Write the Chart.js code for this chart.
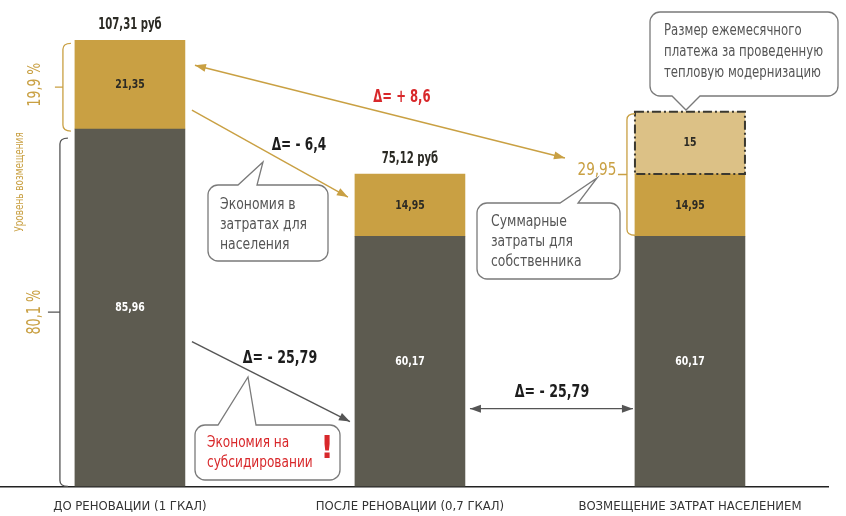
<!DOCTYPE html>
<html>
<head>
<meta charset="utf-8">
<script src="https://cdn.jsdelivr.net/npm/chart.js@4.4.0/dist/chart.umd.min.js"></script>
<style>
  html, body { margin: 0; padding: 0; background: #fff; }
  #wrap { width: 846px; height: 516px; position: relative; }
</style>
</head>
<body>
<div id="wrap"><canvas id="chart"></canvas></div>
<script>
// Data
const categories = ['ДО РЕНОВАЦИИ (1 ГКАЛ)', 'ПОСЛЕ РЕНОВАЦИИ (0,7 ГКАЛ)', 'ВОЗМЕЩЕНИЕ ЗАТРАТ НАСЕЛЕНИЕМ'];
const subsidyPart = [85.96, 60.17, 60.17];   // dark part
const residentPart = [21.35, 14.95, 14.95];  // gold part
const modernPayment = [null, null, 15];      // light part (3rd column only)
const shareLabels = ['19,9 %', '80,1 %'];

const FONT = "'Liberation Sans Narrow', 'DejaVu Sans Condensed', sans-serif";
const DARK = '#5d5b50';
const GOLD = '#c9a043';
const LIGHT = '#dcc186';
const RED = '#d8282b';

Chart.defaults.font.family = FONT;

function fmt(v) {
    return String(Math.round(v * 100) / 100).replace('.', ',');
}

function toPoints(arr) {
    return arr.map((v, i) => v === null ? null : { x: i + 1, y: v }).filter(p => p);
}

function arrow(ctx, x1, y1, x2, y2, color, both) {
    ctx.save();
    ctx.strokeStyle = color;
    ctx.fillStyle = color;
    ctx.lineWidth = 1.4;
    ctx.beginPath();
    ctx.moveTo(x1, y1);
    ctx.lineTo(x2, y2);
    ctx.stroke();
    const head = (hx, hy, ang) => {
        ctx.beginPath();
        ctx.moveTo(hx, hy);
        ctx.lineTo(hx - 11 * Math.cos(ang) + 4 * Math.sin(ang), hy - 11 * Math.sin(ang) - 4 * Math.cos(ang));
        ctx.lineTo(hx - 11 * Math.cos(ang) - 4 * Math.sin(ang), hy - 11 * Math.sin(ang) + 4 * Math.cos(ang));
        ctx.closePath();
        ctx.fill();
    };
    const a = Math.atan2(y2 - y1, x2 - x1);
    head(x2, y2, a);
    if (both) head(x1, y1, a + Math.PI);
    ctx.restore();
}

function callout(ctx, x, y, w, h, side, b1, b2, tx, ty) {
    const r = 10;
    ctx.save();
    ctx.beginPath();
    ctx.moveTo(x + r, y);
    if (side === 'top') { ctx.lineTo(b1, y); ctx.lineTo(tx, ty); ctx.lineTo(b2, y); }
    ctx.lineTo(x + w - r, y);
    ctx.arcTo(x + w, y, x + w, y + r, r);
    ctx.lineTo(x + w, y + h - r);
    ctx.arcTo(x + w, y + h, x + w - r, y + h, r);
    if (side === 'bottom') { ctx.lineTo(b2, y + h); ctx.lineTo(tx, ty); ctx.lineTo(b1, y + h); }
    ctx.lineTo(x + r, y + h);
    ctx.arcTo(x, y + h, x, y + h - r, r);
    ctx.lineTo(x, y + r);
    ctx.arcTo(x, y, x + r, y, r);
    ctx.closePath();
    ctx.fillStyle = '#fff';
    ctx.fill();
    ctx.strokeStyle = '#7a7a7a';
    ctx.lineWidth = 1.3;
    ctx.stroke();
    ctx.restore();
}

function bracket(ctx, x, y1, y2, tick, color) {
    ctx.save();
    ctx.strokeStyle = color;
    ctx.lineWidth = 1.3;
    ctx.beginPath();
    ctx.moveTo(x + 8, y1);
    ctx.quadraticCurveTo(x, y1, x, y1 + 6);
    ctx.lineTo(x, y2 - 6);
    ctx.quadraticCurveTo(x, y2, x + 8, y2);
    const my = (y1 + y2) / 2;
    ctx.moveTo(x, my);
    ctx.lineTo(x - tick, my);
    ctx.stroke();
    ctx.restore();
}

// text squeezed horizontally (sx) to imitate the condensed face of the original
function text(ctx, str, x, y, font, color, align, sx) {
    sx = sx || 1;
    ctx.save();
    ctx.translate(x, y);
    ctx.scale(sx, 1);
    ctx.font = font;
    ctx.fillStyle = color;
    ctx.textAlign = align || 'center';
    ctx.textBaseline = 'middle';
    ctx.fillText(str, 0, 0);
    ctx.restore();
}

function vtext(ctx, str, x, y, font, color, sx) {
    ctx.save();
    ctx.translate(x, y);
    ctx.rotate(-Math.PI / 2);
    text(ctx, str, 0, 0, font, color, 'center', sx);
    ctx.restore();
}

const annotations = {
    id: 'annotations',
    afterDatasetsDraw(chart) {
        const ctx = chart.ctx;
        const Y = v => chart.scales.y.getPixelForValue(v);
        const bars = [0, 1, 2].map(d => chart.getDatasetMeta(d).data);

        // values inside the bars
        bars.forEach((els, d) => {
            els.forEach((el, k) => {
                const v = chart.data.datasets[d].data[k].y;
                text(ctx, fmt(v), el.x, (el.y + el.base) / 2, 'bold 13px ' + FONT, d === 0 ? '#fff' : '#2b2a24', 'center', 0.8);
            });
        });

        // dashed frame round the modernisation payment
        const m = bars[2][0];
        ctx.save();
        ctx.strokeStyle = '#3a3830';
        ctx.lineWidth = 2;
        ctx.setLineDash([9, 3, 2, 3]);
        ctx.strokeRect(m.x - m.width / 2, m.y, m.width, m.base - m.y);
        ctx.restore();

        // totals above the first two columns
        [0, 1].forEach(i => {
            const total = subsidyPart[i] + residentPart[i];
            text(ctx, fmt(total) + ' руб', bars[1][i].x, bars[1][i].y - 15, 'bold 15px ' + FONT, '#2b2a24', 'center', 0.75);
        });

        // left brackets and shares
        const b1 = bars[1][0], b0 = bars[0][0];
        const lx = b0.x - b0.width / 2;
        bracket(ctx, lx - 12, b1.y + 3, b1.base + 2, 8, GOLD);
        bracket(ctx, lx - 15, b0.y + 9, b0.base, 12, '#555');
        vtext(ctx, shareLabels[0], 35, (b1.y + b1.base) / 2, '18px ' + FONT, GOLD, 0.77);
        vtext(ctx, shareLabels[1], 35, (b0.y + 9 + b0.base) / 2, '19px ' + FONT, GOLD, 0.75);
        vtext(ctx, 'Уровень возмещения', 20, 182, '13px ' + FONT, GOLD, 0.76);

        // right bracket: sum paid by the owner
        const r1 = bars[1][2], r2 = bars[2][0];
        const rx = r2.x - r2.width / 2;
        bracket(ctx, rx - 8, r2.y + 2, r1.base - 1, 9, GOLD);
        const ownerSum = residentPart[2] + modernPayment[2];
        text(ctx, fmt(ownerSum), rx - 38, (r2.y + r1.base) / 2 - 4, '18px ' + FONT, GOLD, 'center', 0.84);

        // arrows
        const right1 = b0.x + b0.width / 2;
        const left2 = bars[1][1].x - bars[1][1].width / 2;
        const right2 = bars[1][1].x + bars[1][1].width / 2;
        const bf = 'bold 18px ' + FONT;
        arrow(ctx, right1 + 10, Y(101.3), rx - 70, Y(79), GOLD, true);
        text(ctx, 'Δ= + 8,6', 402, 97, bf, RED, 'center', 0.72);
        arrow(ctx, right1 + 7, Y(90.5), left2 - 7, Y(69.6), GOLD, false);
        text(ctx, 'Δ= - 6,4', 299, 145, bf, '#1d1d1d', 'center', 0.75);
        arrow(ctx, right1 + 7, Y(34.8), left2 - 5, Y(15.6), '#555', false);
        text(ctx, 'Δ= - 25,79', 280, 358, bf, '#1d1d1d', 'center', 0.78);
        arrow(ctx, right2 + 5, Y(18.7), rx - 2, Y(18.7), '#555', true);
        text(ctx, 'Δ= - 25,79', 552, 392, bf, '#1d1d1d', 'center', 0.78);

        // callouts
        callout(ctx, 208, 185, 120, 76, 'top', 238, 257, 263, 162);
        ['Экономия в', 'затратах для', 'населения'].forEach((s, i) => text(ctx, s, 220, 205 + i * 20, '15px ' + FONT, '#555', 'left', 0.92));

        callout(ctx, 477, 203, 143, 76, 'top', 560, 578, 597, 178);
        ['Суммарные', 'затраты для', 'собственника'].forEach((s, i) => text(ctx, s, 491, 222 + i * 20, '15px ' + FONT, '#555', 'left', 0.92));

        callout(ctx, 650, 12, 188, 84, 'bottom', 672, 700, 686, 110);
        ['Размер ежемесячного', 'платежа за проведенную', 'тепловую модернизацию'].forEach((s, i) => text(ctx, s, 664, 31 + i * 21, '15px ' + FONT, '#555', 'left', 0.87));

        callout(ctx, 195, 425, 145, 55, 'top', 218, 256, 248, 377);
        ['Экономия на', 'субсидировании'].forEach((s, i) => text(ctx, s, 207, 443 + i * 20, '15px ' + FONT, RED, 'left', 0.9));
        text(ctx, '!', 327, 450, 'bold 32px ' + FONT, RED);
    }
};

new Chart(document.getElementById('chart'), {
    type: 'bar',
    data: {
        datasets: [
            { label: 'Субсидия', data: toPoints(subsidyPart), backgroundColor: DARK },
            { label: 'Население', data: toPoints(residentPart), backgroundColor: GOLD },
            { label: 'Модернизация', data: toPoints(modernPayment), backgroundColor: LIGHT }
        ]
    },
    options: {
        responsive: true,
        maintainAspectRatio: false,
        animation: false,
        barThickness: 110,
        layout: { padding: { left: 0, right: 18, top: 0, bottom: -10 } },
        plugins: { legend: { display: false }, tooltip: { enabled: false } },
        scales: {
            x: {
                type: 'linear',
                stacked: true,
                offset: false,
                min: 0.536,
                max: 3.493,
                afterBuildTicks: axis => { axis.ticks = [1, 2, 3].map(v => ({ value: v })); },
                ticks: {
                    callback: v => categories[v - 1] || '',
                    color: '#333',
                    font: { size: 13 },
                    padding: 12,
                    maxRotation: 0,
                    autoSkip: false
                },
                grid: { display: false, drawTicks: false, offset: false },
                border: { display: true, color: '#222', width: 1.5 }
            },
            y: {
                stacked: true,
                display: false,
                min: 0,
                max: 117
            }
        }
    },
    plugins: [annotations]
});
</script>
</body>
</html>
